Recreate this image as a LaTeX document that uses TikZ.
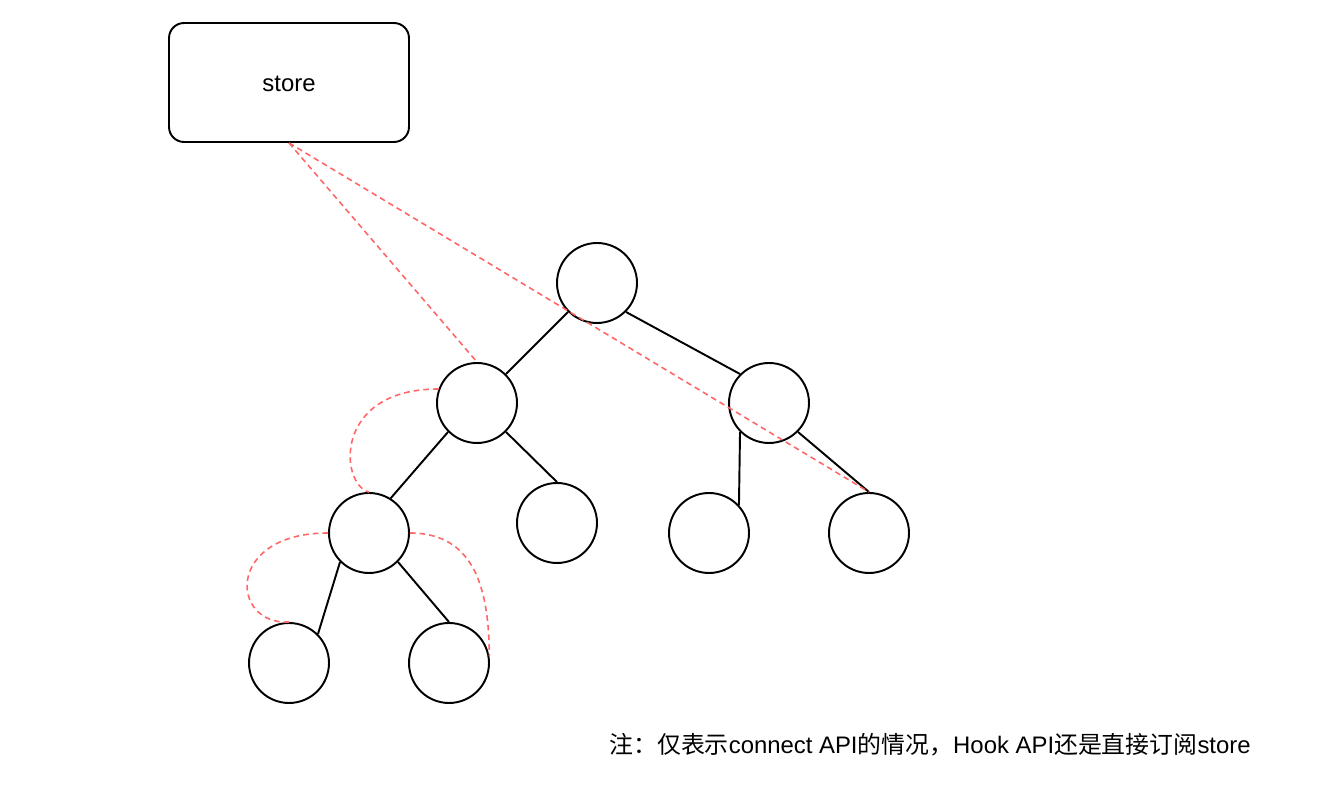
\documentclass[tikz,border=0pt]{standalone}
\usepackage{fontspec}
\setmainfont{Liberation Sans}
\newfontfamily\cjk{Noto Sans CJK SC}
\usetikzlibrary{positioning, calc}
\definecolor{subred}{RGB}{255, 102, 102}
\tikzset{
    storebox/.style={draw, rounded corners=0.3cm, line width=1.1pt, minimum width=4.8cm, minimum height=2.38cm, text height=0.36cm, text depth=0pt},
    treenode/.style={draw, circle, line width=1.1pt, minimum size=1.6cm, inner sep=0pt},
    treeedge/.style={line width=1.1pt},
    subscribe/.style={subred, line width=0.9pt, dash pattern=on 3.2pt off 2.3pt}
}

\begin{document}
\begin{tikzpicture}[x=0.02cm, y=-0.02cm, font=\fontsize{13.6}{16}\selectfont]
    \useasboundingbox (0,0) rectangle (1340,786);

    % Store
    \node[storebox] (store) at (289,82.5) {store};

    % Component tree
    \node[treenode] (root) at (597,283) {};
    \node[treenode] (left) at (477,403) {};
    \node[treenode] (right) at (769,403) {};
    \node[treenode] (leftA) at (369,533) {};
    \node[treenode] (leftB) at (557,523) {};
    \node[treenode] (rightA) at (709,533) {};
    \node[treenode] (rightB) at (869,533) {};
    \node[treenode] (leafA) at (289,663) {};
    \node[treenode] (leafB) at (449,663) {};

    % Tree edges
    \draw[treeedge] (root.-135) -- (left.45);
    \draw[treeedge] (root.-45) -- (right.135);
    \draw[treeedge] (left.-135) -- (leftA.58);
    \draw[treeedge] (left.-45) -- (leftB.north);
    \draw[treeedge] (right.-135) -- (rightA.43);
    \draw[treeedge] (right.-45) -- (rightB.north);
    \draw[treeedge] (leftA.-135) -- (leafA.45);
    \draw[treeedge] (leftA.-45) -- (leafB.north);

    % Subscriptions
    \draw[subscribe] (store.south) -- (left.north);
    \draw[subscribe] (store.south) -- (rightB.north);
    \draw[subscribe] (left.160) .. controls (332,389) and (340,485) .. (leftA.north);
    \draw[subscribe] (leftA.west) .. controls (225,533) and (230,625) .. (leafA.north);
    \draw[subscribe] (leftA.east) .. controls (475,533) and (489,590) .. (leafB.10);

    % Note
    \node[anchor=west, inner sep=0pt] (note) at (609,745)
        {{\cjk 注：仅表示}connect API{\cjk 的情况，}Hook API{\cjk 还是直接订阅}store};
\end{tikzpicture}
\end{document}
